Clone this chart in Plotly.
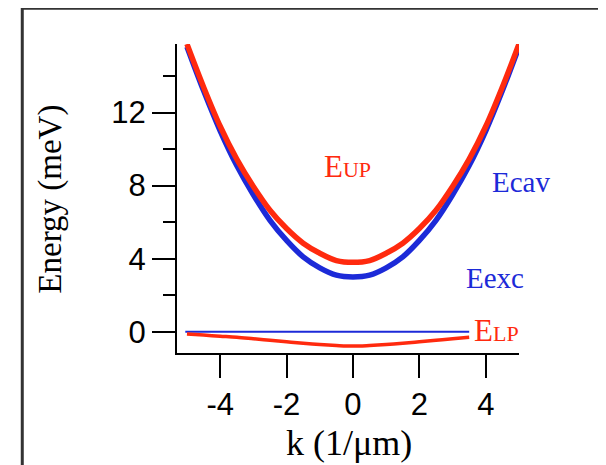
import plotly.graph_objects as go

# ---- data ----
k_up = [-5, -4.5, -4, -3.5, -3, -2.5, -2, -1.5, -1, -0.5, 0, 0.5, 1, 1.5, 2, 2.5, 3, 3.5, 4, 4.5, 5]
E_cav = [15.6, 13.2, 11.0, 9.1, 7.5, 6.1, 5.0, 4.1, 3.5, 3.1, 3.0, 3.1, 3.5, 4.1, 5.0, 6.1, 7.5, 9.1, 11.0, 13.2, 15.6]
E_up = [15.75, 13.4, 11.25, 9.45, 7.95, 6.65, 5.65, 4.85, 4.3, 3.9, 3.8, 3.9, 4.3, 4.85, 5.65, 6.65, 7.95, 9.45, 11.25, 13.4, 15.75]

k_lp = [-5, -4.5, -4, -3.5, -3, -2.5, -2, -1.5, -1, -0.5, 0, 0.5, 1, 1.5, 2, 2.5, 3, 3.5]
E_lp = [-0.12, -0.18, -0.24, -0.3, -0.38, -0.46, -0.55, -0.63, -0.7, -0.75, -0.78, -0.75, -0.7, -0.63, -0.55, -0.46, -0.38, -0.3]

k_exc = [-5.05, 3.5]
E_exc = [0, 0]

x_tickvals = [-4, -2, 0, 2, 4]
x_ticktext = ["-4", "-2", "0", "2", "4"]
y_tickvals = [0, 4, 8, 12]
y_ticktext = ["0", "4", "8", "12"]

RED = "#ff2a0e"
BLUE = "#1c2ad8"

fig = go.Figure()
fig.add_trace(go.Scatter(x=k_exc, y=E_exc, mode="lines", line=dict(color=BLUE, width=2)))
fig.add_trace(go.Scatter(x=k_lp, y=E_lp, mode="lines", line=dict(color=RED, width=3.5, shape="spline")))
fig.add_trace(go.Scatter(x=k_up, y=E_cav, mode="lines", line=dict(color=BLUE, width=5.5, shape="spline")))
fig.add_trace(go.Scatter(x=k_up, y=E_up, mode="lines", line=dict(color=RED, width=5.5, shape="spline")))

OFF = 8  # page body margin offset
W, H = 606, 465
L = 176.7 - OFF
T = 44 - OFF
B = H - (352.7 - OFF)
R = W - (519.3 - OFF)
pw = W - L - R
ph = H - T - B

def px(xp):
    return (xp - OFF - L) / pw

def py(yp):
    return (H - B - (yp - OFF)) / ph

serif = "Liberation Serif, Times New Roman, serif"
sans = "Liberation Sans, Arial, sans-serif"

annots = [
    dict(x=px(347), y=py(166), text="E<span style='font-size:22px'>UP</span>",
         font=dict(family=serif, size=31, color=RED)),
    dict(x=px(521), y=py(181.7), text="Ecav", font=dict(family=serif, size=29, color=BLUE)),
    dict(x=px(495), y=py(278), text="Eexc", font=dict(family=serif, size=29, color=BLUE)),
    dict(x=px(497), y=py(330), text="E<span style='font-size:22px'>LP</span>",
         font=dict(family=serif, size=31, color=RED)),
    dict(x=px(50), y=py(199), textangle=-90,
         text="Energy (meV)", font=dict(family=serif, size=33, color="black")),
    dict(x=px(349.5), y=py(443), text="k (1/μm)", font=dict(family=serif, size=36, color="black")),
]
for a in annots:
    a.update(showarrow=False, xanchor="center", yanchor="middle", xref="paper", yref="paper")

fig.update_layout(
    width=W, height=H, autosize=False,
    margin=dict(l=L, r=R, t=T, b=B, pad=0),
    paper_bgcolor="white", plot_bgcolor="white",
    showlegend=False,
    annotations=annots,
    shapes=[dict(type="rect", xref="paper", yref="paper",
                 x0=px(21.7), x1=px(602), y0=py(490), y1=py(8.3),
                 line=dict(color="#333", width=3), layer="below")],
    xaxis=dict(range=[-5.3, 5.0], showgrid=False, zeroline=False, showline=True,
               linecolor="black", linewidth=2, ticks="outside", ticklen=23, tickwidth=2,
               tickcolor="black", tickvals=x_tickvals, ticktext=x_ticktext,
               tickfont=dict(family=sans, size=31, color="black"), automargin=False),
    yaxis=dict(range=[-1.16, 15.75], showgrid=False, zeroline=False, showline=True,
               linecolor="black", linewidth=2, ticks="outside", ticklen=23, tickwidth=2,
               tickcolor="black", tickvals=y_tickvals, ticktext=y_ticktext,
               minor=dict(tickvals=[2, 6, 10, 14], ticks="outside", ticklen=12, tickwidth=2, tickcolor="black"),
               tickfont=dict(family=sans, size=31, color="black"), automargin=False),
)

fig.write_html("out.html")
